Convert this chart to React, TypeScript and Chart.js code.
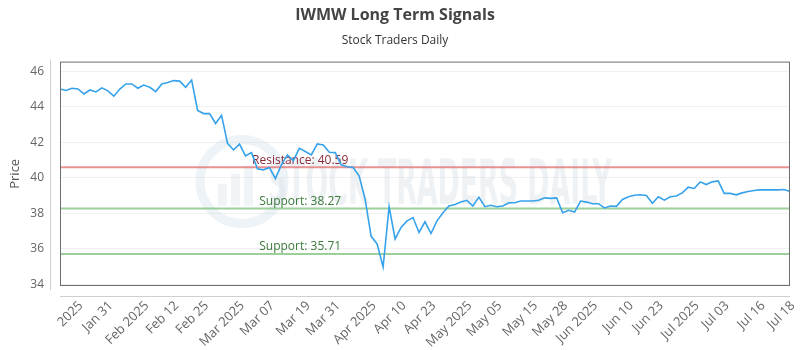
import React, { useEffect, useRef } from "react";
import { Chart, registerables } from "chart.js";

Chart.register(...registerables);

const chartTitle = "IWMW Long Term Signals";
const chartSubtitle = "Stock Traders Daily";
const yAxisTitle = "Price";
const watermarkText = "STOCK TRADERS DAILY";

const prices: number[] = [
  45.01, 44.92, 45.05, 45.01, 44.73, 44.95, 44.84, 45.07, 44.9, 44.6,
  45.0, 45.29, 45.29, 45.05, 45.23, 45.1, 44.86, 45.29, 45.37, 45.48,
  45.45, 45.1, 45.51, 43.8, 43.62, 43.62, 43.06, 43.52, 41.94, 41.57,
  41.9, 41.24, 41.42, 40.51, 40.45, 40.58, 39.95, 40.73, 41.29, 40.97,
  41.66, 41.48, 41.29, 41.91, 41.85, 41.44, 41.42, 40.73, 40.62, 40.58,
  40.1, 38.78, 36.7, 36.27, 34.97, 38.37, 36.55, 37.2, 37.57, 37.76,
  36.92, 37.52, 36.86, 37.57, 38.03, 38.41, 38.5, 38.63, 38.73, 38.41,
  38.91, 38.37, 38.45, 38.37, 38.41, 38.59, 38.59, 38.69, 38.69, 38.69,
  38.73, 38.87, 38.84, 38.87, 38.03, 38.17, 38.07, 38.69, 38.63, 38.54,
  38.54, 38.3, 38.41, 38.39, 38.78, 38.93, 39.02, 39.04, 39.0, 38.56,
  38.93, 38.74, 38.93, 38.97, 39.15, 39.47, 39.4, 39.77, 39.62, 39.77,
  39.82, 39.12, 39.12, 39.04, 39.15, 39.23, 39.28, 39.32, 39.32, 39.32,
  39.32, 39.34, 39.23,
];

const tickLabels: string[] = [
  "2025", "Jan 31", "Feb 2025", "Feb 12", "Feb 25", "Mar 2025", "Mar 07",
  "Mar 19", "Mar 31", "Apr 2025", "Apr 10", "Apr 23", "May 2025", "May 05",
  "May 15", "May 28", "Jun 2025", "Jun 10", "Jun 23", "Jul 2025", "Jul 03",
  "Jul 16", "Jul 18",
];

const yTickValues: number[] = [34, 36, 38, 40, 42, 44, 46];
const yMin = 33.9;
const yMax = 46.55;

const resistanceLevels: number[] = [40.59];
const supportLevels: number[] = [38.27, 35.71];

const FONT = "'Open Sans', 'DejaVu Sans', sans-serif";

export default function App() {
  const canvasRef = useRef<HTMLCanvasElement | null>(null);

  useEffect(() => {
    const canvas = canvasRef.current;
    if (!canvas) return;

    const n = prices.length;
    const firstTickIdx = 2.7;
    const labelAt = new Map<number, string>();
    tickLabels.forEach((t, j) => {
      const idx = Math.round(firstTickIdx + (j * (n - 1 - firstTickIdx)) / (tickLabels.length - 1));
      labelAt.set(idx, t);
    });
    const categories = prices.map((_, i) => String(i));

    const framePlugin = {
      id: "frameAndLevels",
      beforeDatasetsDraw(chart: any) {
        const { ctx, chartArea } = chart;
        const { left, right, top, bottom } = chartArea;
        const yScale = chart.scales.y;
        ctx.save();
        // watermark
        const cx = left + 182;
        const cy = top + 120;
        ctx.strokeStyle = "rgba(200,214,228,0.3)";
        ctx.lineWidth = 9;
        ctx.beginPath();
        ctx.arc(cx, cy, 42, 0, Math.PI * 2);
        ctx.stroke();
        ctx.fillStyle = "rgba(200,214,228,0.28)";
        ctx.fillRect(cx - 24, cy + 2, 9, 22);
        ctx.fillRect(cx - 11, cy - 8, 9, 32);
        ctx.fillRect(cx + 2, cy - 16, 9, 40);
        ctx.font = `bold 62px 'DejaVu Sans Condensed', ${FONT}`;
        const w = ctx.measureText(watermarkText).width;
        const targetW = 344;
        ctx.translate(cx + 26, cy + 22);
        ctx.scale(targetW / w, 1);
        ctx.fillStyle = "rgba(215,222,230,0.4)";
        ctx.textBaseline = "alphabetic";
        ctx.textAlign = "left";
        ctx.fillText(watermarkText, 0, 0);
        ctx.restore();

        ctx.save();
        const labelX = left + (right - left) * 0.329;
        ctx.font = `12px ${FONT}`;
        ctx.textAlign = "center";
        ctx.textBaseline = "bottom";
        resistanceLevels.forEach((v) => {
          const y = yScale.getPixelForValue(v);
          ctx.strokeStyle = "rgba(226,110,110,0.75)";
          ctx.lineWidth = 2;
          ctx.beginPath();
          ctx.moveTo(left, y);
          ctx.lineTo(right, y);
          ctx.stroke();
          ctx.fillStyle = "#8a2a3a";
          ctx.fillText(`Resistance: ${v.toFixed(2)}`, labelX, y - 1);
        });
        supportLevels.forEach((v) => {
          const y = yScale.getPixelForValue(v);
          ctx.strokeStyle = "rgba(130,196,130,0.8)";
          ctx.lineWidth = 2;
          ctx.beginPath();
          ctx.moveTo(left, y);
          ctx.lineTo(right, y);
          ctx.stroke();
          ctx.fillStyle = "#3b7a3b";
          ctx.fillText(`Support: ${v.toFixed(2)}`, labelX, y - 1);
        });
        ctx.restore();
      },
      afterDraw(chart: any) {
        const { ctx, chartArea } = chart;
        const { left, right, top, bottom } = chartArea;
        ctx.save();
        ctx.strokeStyle = "#6e6e6e";
        ctx.lineWidth = 1;
        ctx.strokeRect(left + 0.5, top + 0.5, right - left - 1, bottom - top - 1);
        ctx.strokeStyle = "#cfcfcf";
        ctx.beginPath();
        ctx.moveTo(left - 9.5, top - 2);
        ctx.lineTo(left - 9.5, bottom + 4);
        ctx.moveTo(left, bottom + 10.5);
        ctx.lineTo(right, bottom + 10.5);
        ctx.stroke();
        ctx.restore();
      },
    };

    const chart = new Chart(canvas, {
      type: "line",
      data: {
        labels: categories,
        datasets: [
          {
            label: "Price",
            data: prices,
            borderColor: "rgb(54,162,235)",
            backgroundColor: "rgb(54,162,235)",
            borderWidth: 1.6,
            pointRadius: 0,
            tension: 0,
            fill: false,
          },
        ],
      },
      options: {
        responsive: false,
        animation: false,
        maintainAspectRatio: false,
        layout: { padding: { left: 0, right: 10, top: 4, bottom: 0 } },
        plugins: {
          legend: { display: false },
          tooltip: { enabled: false },
          title: {
            display: true,
            text: chartTitle,
            color: "#444",
            font: { family: FONT, size: 16, weight: "bold" },
            padding: { top: 2, bottom: 7 },
          },
          subtitle: {
            display: true,
            text: chartSubtitle,
            color: "#333",
            font: { family: FONT, size: 12 },
            padding: { top: 1, bottom: 14 },
          },
        },
        scales: {
          x: {
            type: "category",
            offset: false,
            grid: { display: false },
            border: { display: false },
            afterFit: (scale: any) => {
              scale.height = 64;
              scale.paddingLeft = 0;
              scale.paddingRight = 0;
            },
            ticks: {
              autoSkip: false,
              maxRotation: 45,
              minRotation: 45,
              padding: 4,
              labelOffset: 3,
              color: "#666",
              font: { family: FONT, size: 13 },
              callback: (_v: any, idx: number) => {
                const l = labelAt.get(idx);
                return l === undefined ? null : l;
              },
            },
          },
          y: {
            min: yMin,
            max: yMax,
            afterBuildTicks: (scale: any) => {
              scale.ticks = yTickValues.map((v) => ({ value: v }));
            },
            afterFit: (scale: any) => {
              scale.width = 60;
            },
            grid: { color: "#f0f0f0", drawTicks: false },
            border: { display: false },
            title: {
              display: true,
              text: yAxisTitle,
              color: "#555",
              font: { family: FONT, size: 13 },
              padding: { top: 7, bottom: 4 },
            },
            ticks: {
              padding: 16,
              color: "#666",
              font: { family: FONT, size: 12 },
            },
          },
        },
      },
      plugins: [framePlugin],
    });

    return () => chart.destroy();
  }, []);

  return (
    <div style={{ position: "fixed", left: 0, top: 0, width: 800, height: 350, background: "#fff" }}>
      <canvas ref={canvasRef} width={800} height={350} style={{ display: "block" }} />
    </div>
  );
}
